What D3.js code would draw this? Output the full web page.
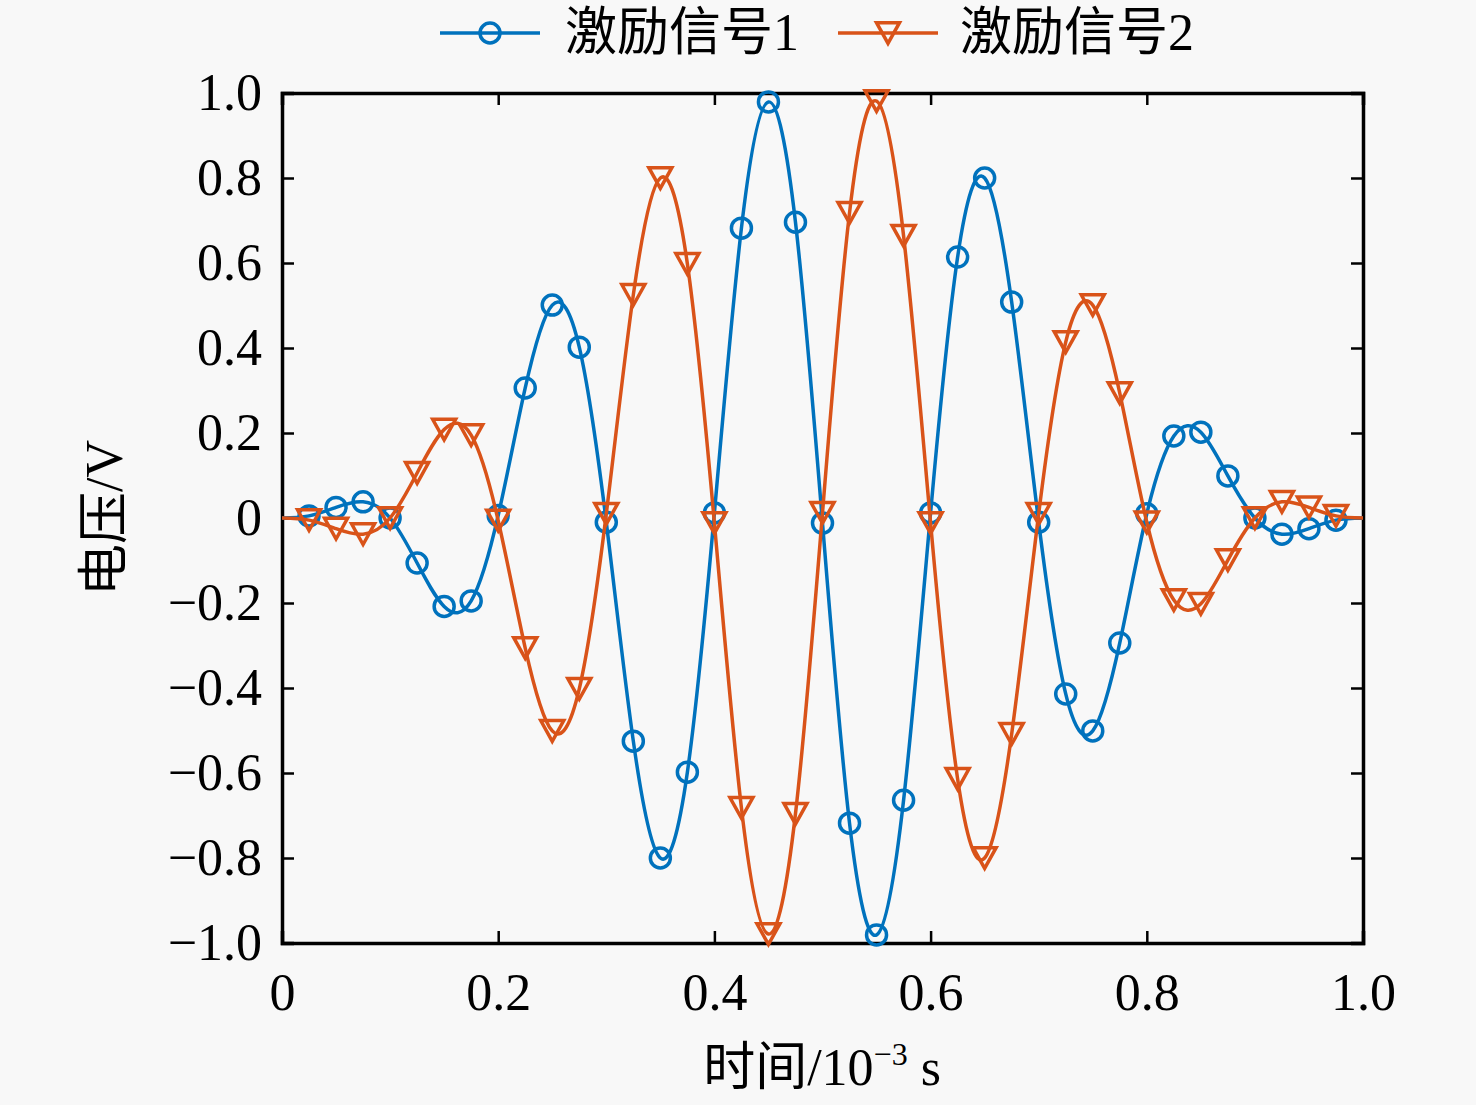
<!DOCTYPE html>
<html>
<head>
<meta charset="utf-8">
<script src="https://cdn.jsdelivr.net/npm/d3@7"></script>
<style>
body { margin: 0; background: #f8f8f8; }
svg { display: block; }
text { font-family: "Liberation Serif", "Noto Sans CJK SC", serif; fill: #000; }
</style>
</head>
<body>
<div id="graph"></div>
<script>
// time in 10^-3 s, marker positions every 0.025
var times = [0, 0.025, 0.05, 0.075, 0.1, 0.125, 0.15, 0.175, 0.2, 0.225, 0.25, 0.275, 0.3, 0.325, 0.35, 0.375, 0.4, 0.425, 0.45, 0.475,
	0.5, 0.525, 0.55, 0.575, 0.6, 0.625, 0.65, 0.675, 0.7, 0.725, 0.75, 0.775, 0.8, 0.825, 0.85, 0.875, 0.9, 0.925, 0.95, 0.975, 1.0]

var signal1 = [0, 0.005, 0.025, 0.038, 0, -0.106, -0.208, -0.195, 0.006, 0.306, 0.501, 0.402, -0.01, -0.525, -0.8, -0.598, 0.012, 0.682, 0.979, 0.696,
	-0.012, -0.718, -0.981, -0.664, 0.012, 0.614, 0.8, 0.508, -0.01, -0.414, -0.501, -0.294, 0.01, 0.193, 0.202, 0.099, 0, -0.038, -0.025, -0.005, 0]

var signal2 = [0, -0.005, -0.025, -0.038, 0, 0.106, 0.208, 0.195, -0.006, -0.306, -0.501, -0.402, 0.01, 0.525, 0.8, 0.598, -0.012, -0.682, -0.979, -0.696,
	0.012, 0.718, 0.981, 0.664, -0.012, -0.614, -0.8, -0.508, 0.01, 0.414, 0.501, 0.294, -0.01, -0.193, -0.202, -0.099, 0, 0.038, 0.025, 0.005, 0]

var seriesNames = ['激励信号1', '激励信号2']
var seriesColors = ['#0072BD', '#D95319']
var xTicks = [0, 0.2, 0.4, 0.6, 0.8, 1.0]
var yTicks = [-1, -0.8, -0.6, -0.4, -0.2, 0, 0.2, 0.4, 0.6, 0.8, 1.0]

var width = 1476
var height = 1105
var marginLeft = 282
var marginRight = 113
var marginTop = 93
var marginBottom = 162

var svg = d3.select('#graph').append('svg')
	.attr('width', width)
	.attr('height', height)

var xScale = d3.scaleLinear()
	.domain([0, 1])
	.range([marginLeft, width - marginRight])

var yScale = d3.scaleLinear()
	.domain([-1, 1])
	.range([height - marginBottom, marginTop])

function fmt(d) {
	return d === 0 ? '0' : d3.format('.1f')(d)
}

var fontSize = 52
var lineW = 3.5

// axes, ticks pointing inward
var gx = svg.append('g')
	.attr('transform', 'translate(0,' + (height - marginBottom) + ')')
	.call(d3.axisBottom(xScale).tickValues(xTicks).tickSize(-12).tickPadding(30).tickFormat(fmt))
var gy = svg.append('g')
	.attr('transform', 'translate(' + marginLeft + ',0)')
	.call(d3.axisLeft(yScale).tickValues(yTicks).tickSize(-12).tickPadding(20).tickFormat(fmt))
var gt = svg.append('g')
	.attr('transform', 'translate(0,' + marginTop + ')')
	.call(d3.axisTop(xScale).tickValues(xTicks).tickSize(-12).tickFormat(''))
var gr = svg.append('g')
	.attr('transform', 'translate(' + (width - marginRight) + ',0)')
	.call(d3.axisRight(yScale).tickValues(yTicks).tickSize(-12).tickFormat(''))

;[gx, gy, gt, gr].forEach(function(g) {
	g.select('.domain').attr('stroke', '#000').attr('stroke-width', 3.5)
	g.selectAll('.tick line').attr('stroke', '#000').attr('stroke-width', 2.5)
	g.selectAll('.tick text')
		.style('font-family', '"Liberation Serif", serif')
		.style('font-size', fontSize + 'px')
		.attr('fill', '#000')
})

// curves
var line = d3.line()
	.x(function(d) { return xScale(d.t) })
	.y(function(d) { return yScale(d.v) })
	.curve(d3.curveNatural)

var triangle = function(size) {
	var h = size * 0.9
	return 'M' + (-size / 2) + ',' + (-h / 2) + 'L' + (size / 2) + ',' + (-h / 2) + 'L0,' + (h / 2) + 'Z'
}

function drawSeries(values, color, markerType) {
	var data = times.map(function(t, i) { return { t: t, v: values[i] } })
	// no markers on the two end points
	var marked = data.filter(function(d) { return d.t > 0 && d.t < 1 })
	var g = svg.append('g')
	g.append('path')
		.datum(data)
		.attr('d', line)
		.attr('fill', 'none')
		.attr('stroke', color)
		.attr('stroke-width', lineW)
	if (markerType === 'circle') {
		g.selectAll('circle')
			.data(marked)
			.enter().append('circle')
			.attr('cx', function(d) { return xScale(d.t) })
			.attr('cy', function(d) { return yScale(d.v) })
			.attr('r', 10)
			.attr('fill', 'none')
			.attr('stroke', color)
			.attr('stroke-width', lineW)
	} else {
		g.selectAll('path.marker')
			.data(marked)
			.enter().append('path')
			.attr('class', 'marker')
			.attr('transform', function(d) { return 'translate(' + xScale(d.t) + ',' + yScale(d.v) + ')' })
			.attr('d', triangle(23))
			.attr('fill', 'none')
			.attr('stroke', color)
			.attr('stroke-width', lineW)
	}
}

drawSeries(signal1, seriesColors[0], 'circle')
drawSeries(signal2, seriesColors[1], 'triangle')

// legend
var legendItems = [
	{ name: seriesNames[0], color: seriesColors[0], marker: 'circle', x: 440, textX: 565 },
	{ name: seriesNames[1], color: seriesColors[1], marker: 'triangle', x: 838, textX: 960 }
]
var legendY = 33
legendItems.forEach(function(item) {
	var g = svg.append('g')
	g.append('line')
		.attr('x1', item.x).attr('x2', item.x + 100)
		.attr('y1', legendY).attr('y2', legendY)
		.attr('stroke', item.color)
		.attr('stroke-width', lineW)
	if (item.marker === 'circle') {
		g.append('circle')
			.attr('cx', item.x + 50).attr('cy', legendY)
			.attr('r', 10)
			.attr('fill', 'none')
			.attr('stroke', item.color)
			.attr('stroke-width', lineW)
	} else {
		g.append('path')
			.attr('transform', 'translate(' + (item.x + 50) + ',' + legendY + ')')
			.attr('d', triangle(23))
			.attr('fill', 'none')
			.attr('stroke', item.color)
			.attr('stroke-width', lineW)
	}
	g.append('text')
		.attr('x', item.textX)
		.attr('y', 50)
		.style('font-size', fontSize + 'px')
		.text(item.name)
})

// axis titles
var xTitle = svg.append('text')
	.attr('x', 822)
	.attr('y', 1085)
	.attr('text-anchor', 'middle')
	.style('font-size', fontSize + 'px')
xTitle.append('tspan').text('时间/10')
xTitle.append('tspan').attr('dy', -20).style('font-size', '32px').text('−3')
xTitle.append('tspan').attr('dy', 20).text(' s')

svg.append('text')
	.attr('transform', 'translate(122,518) rotate(-90)')
	.attr('text-anchor', 'middle')
	.style('font-size', fontSize + 'px')
	.text('电压/V')
</script>
</body>
</html>
